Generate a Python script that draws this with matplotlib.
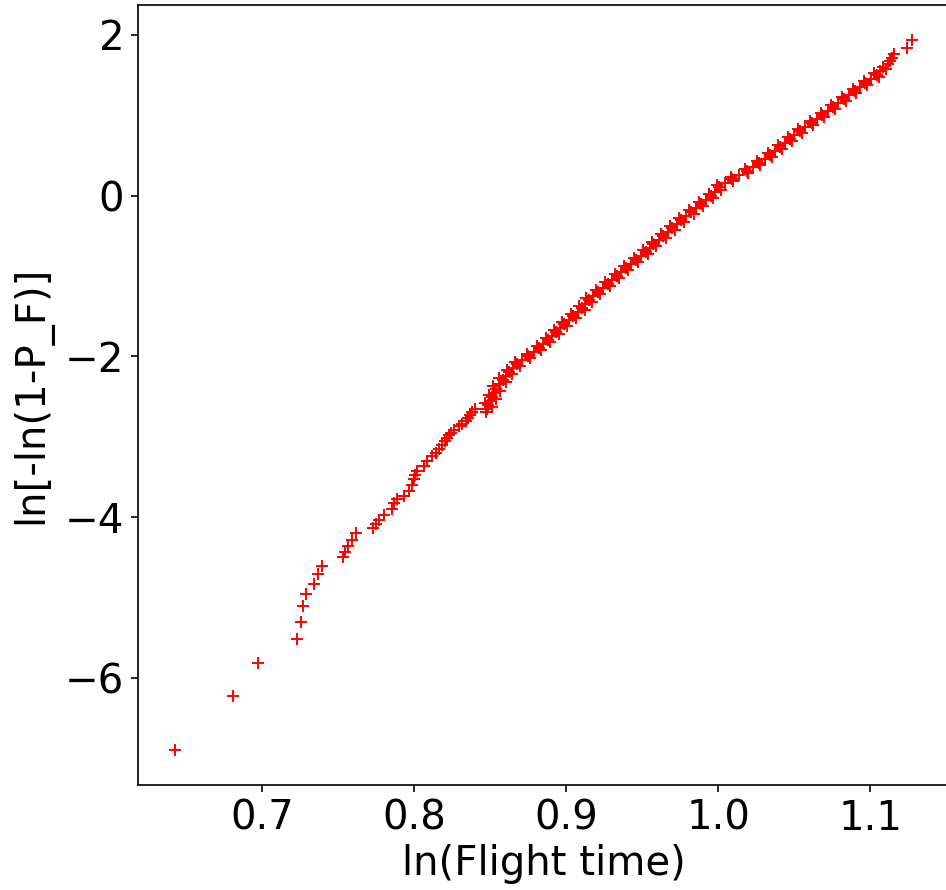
import matplotlib
matplotlib.use('Agg')
import matplotlib.pyplot as plt

# ln(flight time) and ln[-ln(1-P_F)] (band centre)
ln_time = [0.6424, 0.6804, 0.6969, 0.7226, 0.7253, 0.7266, 0.7284, 0.7341, 0.7368, 0.7394,
           0.7528, 0.7541, 0.7565, 0.7592, 0.7618,
           0.7726, 0.7744, 0.7766, 0.7799, 0.7853,
           0.7865, 0.7887, 0.7931, 0.7964, 0.7985, 0.7997, 0.8003, 0.8019, 0.8063, 0.8084,
           0.8118, 0.8140, 0.8160, 0.8184, 0.8200, 0.8217, 0.8228, 0.8239, 0.8262, 0.8294,
           0.8316, 0.8338, 0.8352, 0.8368, 0.8382, 0.8398,
           0.8470, 0.8477, 0.8487, 0.8499, 0.8512, 0.8525, 0.8540, 0.8560, 0.8580, 0.8600,
           0.8625, 0.8652, 0.8678, 0.8711, 0.8749, 0.8787, 0.8819, 0.8849, 0.8878, 0.8908,
           0.8934, 0.8961, 0.8987, 0.9016, 0.9046, 0.9077, 0.9102, 0.9126, 0.9150, 0.9173,
           0.9206, 0.9239, 0.9271, 0.9302, 0.9332, 0.9361, 0.9390, 0.9425, 0.9459, 0.9494,
           0.9524, 0.9548, 0.9573, 0.9608, 0.9639, 0.9668, 0.9698, 0.9727, 0.9757, 0.9790,
           0.9823, 0.9855, 0.9888, 0.9921, 0.9954, 0.9977, 1.0003, 1.0043, 1.0089, 1.0138,
           1.0187, 1.0228, 1.0266, 1.0305, 1.0343, 1.0374, 1.0406, 1.0438, 1.0470, 1.0501,
           1.0535, 1.0574, 1.0614, 1.0651, 1.0686, 1.0720, 1.0755, 1.0790, 1.0826, 1.0861,
           1.0897, 1.0932, 1.0969, 1.1007, 1.1044, 1.1066, 1.1087,
           1.1117, 1.1128, 1.1143, 1.1154, 1.1244, 1.1275]

ln_pf = [-6.89, -6.22, -5.81, -5.51, -5.30, -5.11, -4.95, -4.83, -4.71, -4.61,
         -4.49, -4.43, -4.36, -4.29, -4.20,
         -4.13, -4.08, -4.03, -3.97, -3.90,
         -3.83, -3.78, -3.74, -3.68, -3.60, -3.53, -3.47, -3.43, -3.37, -3.30,
         -3.24, -3.20, -3.15, -3.10, -3.05, -3.01, -2.98, -2.95, -2.91, -2.87,
         -2.84, -2.80, -2.77, -2.73, -2.69, -2.65,
         -2.69, -2.65, -2.60, -2.55, -2.50, -2.45, -2.40, -2.35, -2.30, -2.25,
         -2.20, -2.15, -2.10, -2.05, -2.00, -1.95, -1.90, -1.85, -1.80, -1.75,
         -1.70, -1.65, -1.60, -1.55, -1.50, -1.45, -1.40, -1.35, -1.30, -1.25,
         -1.20, -1.15, -1.10, -1.05, -1.00, -0.95, -0.90, -0.85, -0.80, -0.75,
         -0.70, -0.65, -0.60, -0.55, -0.50, -0.45, -0.40, -0.35, -0.30, -0.25,
         -0.20, -0.15, -0.10, -0.05, 0.00, 0.05, 0.10, 0.15, 0.20, 0.25,
         0.30, 0.35, 0.40, 0.45, 0.50, 0.55, 0.60, 0.65, 0.70, 0.75,
         0.80, 0.85, 0.90, 0.95, 1.00, 1.05, 1.10, 1.15, 1.20, 1.25,
         1.30, 1.35, 1.40, 1.45, 1.50, 1.55, 1.60,
         1.64, 1.67, 1.71, 1.76, 1.83, 1.93]

# extra points read along the two edges of the dense band
ln_time_edge = [0.8512, 0.8463, 0.8536, 0.8489, 0.8563, 0.8520, 0.8600, 0.8560, 0.8643, 0.8609,
                0.8695, 0.8665, 0.8760, 0.8738, 0.8833, 0.8804, 0.8894, 0.8863, 0.8951, 0.8918,
                0.9004, 0.8972, 0.9061, 0.9032, 0.9120, 0.9084, 0.9168, 0.9132, 0.9220, 0.9193,
                0.9285, 0.9257, 0.9347, 0.9317, 0.9406, 0.9378, 0.9472, 0.9447, 0.9539, 0.9506,
                0.9591, 0.9561, 0.9654, 0.9624, 0.9713, 0.9683, 0.9772, 0.9744, 0.9837, 0.9809,
                0.9902, 0.9875, 0.9968, 0.9936, 1.0020, 0.9993, 1.0096, 1.0084, 1.0193, 1.0178,
                1.0277, 1.0256, 1.0354, 1.0329, 1.0420, 1.0392, 1.0484, 1.0456, 1.0548, 1.0525,
                1.0624, 1.0603, 1.0699, 1.0673, 1.0768, 1.0743, 1.0838, 1.0814, 1.0909, 1.0885,
                1.0981, 1.0958, 1.1056, 1.1025, 1.1107]

ln_pf_edge = [-2.625, -2.575, -2.525, -2.475, -2.425, -2.375, -2.325, -2.275, -2.225, -2.175,
              -2.125, -2.075, -2.025, -1.975, -1.925, -1.875, -1.825, -1.775, -1.725, -1.675,
              -1.625, -1.575, -1.525, -1.475, -1.425, -1.375, -1.325, -1.275, -1.225, -1.175,
              -1.125, -1.075, -1.025, -0.975, -0.925, -0.875, -0.825, -0.775, -0.725, -0.675,
              -0.625, -0.575, -0.525, -0.475, -0.425, -0.375, -0.325, -0.275, -0.225, -0.175,
              -0.125, -0.075, -0.025, 0.025, 0.075, 0.125, 0.175, 0.225, 0.275, 0.325,
              0.375, 0.425, 0.475, 0.525, 0.575, 0.625, 0.675, 0.725, 0.775, 0.825,
              0.875, 0.925, 0.975, 1.025, 1.075, 1.125, 1.175, 1.225, 1.275, 1.325,
              1.375, 1.425, 1.475, 1.525, 1.575]

fig = plt.figure(figsize=(9.46, 8.9), dpi=100)
ax = fig.add_axes([0.146, 0.118, 0.857, 0.8765])

ax.plot(ln_time, ln_pf, '+', color='red', markersize=8, markeredgewidth=1.4)
ax.plot(ln_time_edge, ln_pf_edge, '+', color='red', markersize=8, markeredgewidth=1.4)

ax.set_xticks([0.7, 0.8, 0.9, 1.0, 1.1])
ax.set_yticks([-6, -4, -2, 0, 2])
ax.set_xlabel('ln(Flight time)', fontsize=29, labelpad=4)
ax.set_ylabel('ln[-ln(1-P_F)]', fontsize=29, labelpad=9)
ax.tick_params(labelsize=29, length=5, width=1.2, pad=5)
for s in ax.spines.values():
    s.set_linewidth(1.2)

plt.savefig('out.png', dpi=100)
